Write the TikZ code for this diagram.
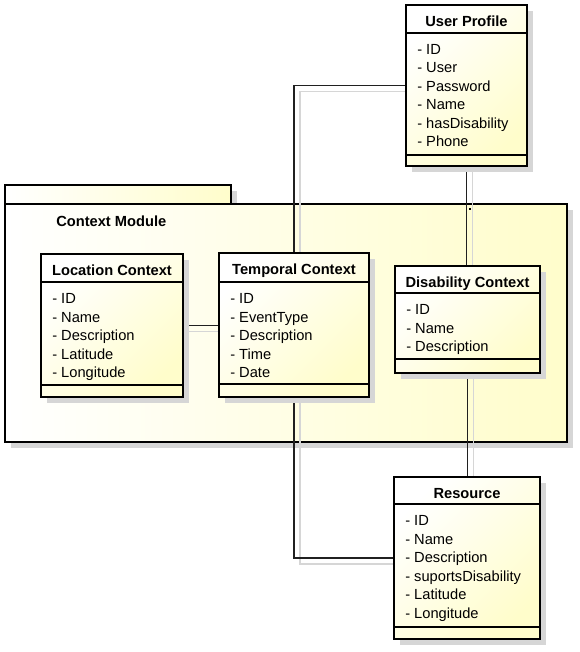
\documentclass[tikz,border=0pt]{standalone}
\usepackage{fontspec}
\setmainfont{Liberation Sans}
\usetikzlibrary{fit,calc}
\definecolor{cream}{HTML}{FFFDCB}
\definecolor{shadowgray}{HTML}{D6D6D6}
\definecolor{ghostgray}{HTML}{D6D6D6}
\definecolor{connc}{HTML}{202020}
\tikzset{
  boxshadow/.style={fill=shadowgray},
  boxfill/.style={top color=white, bottom color=cream, shading angle=45},
  pkgfill/.style={left color=white, right color=cream},
  boxborder/.style={draw=black, line width=2.2pt},
  sepline/.style={draw=black, line width=1.1pt},
  titletext/.style={anchor=base, inner sep=0pt, font=\fontsize{11}{13}\selectfont\bfseries},
  attrtext/.style={anchor=base west, inner sep=0pt, font=\fontsize{11}{13}\selectfont},
  conn/.style={draw=connc, line width=1pt},
  ghost/.style={draw=ghostgray, line width=0.9pt},
}
\newcommand{\umlclass}[9]{%
  \fill[boxshadow] ({#2+6},{#3+6}) rectangle ({#4+6},{#5+6});
  \path[boxfill] (#2,#3) rectangle (#4,#5);
  \draw[sepline] (#2,#6) -- (#4,#6);
  \draw[sepline] (#2,#7) -- (#4,#7);
  \draw[boxborder] (#2,#3) rectangle (#4,#5);
  \node[fit={(#2,#3) (#4,#5)}, inner sep=0pt] (#1) {};
  \node[titletext] (#1-title) at ({(#2+#4)/2},{#3+21.5}) {#8};
  \foreach \t [count=\i] in {#9}
    \node[attrtext] (#1-a\i) at ({#2+11},{#6+21.5+18.5*(\i-1)}) {- \t};
}
\begin{document}
\begin{tikzpicture}[x=0.75pt, y=-0.75pt]
\useasboundingbox (0,0) rectangle (580,652);
% package
\fill[boxshadow] (11,191) rectangle (237,210);
\fill[boxshadow] (11,210) rectangle (573,448);
\path[pkgfill] (5,185) rectangle (231,204);
\path[pkgfill] (5,204) rectangle (567,442);
\draw[boxborder] (5,185) rectangle (231,204);
\draw[boxborder] (5,204) rectangle (567,442);
\node[fit={(5,204) (567,442)}, inner sep=0pt] (ctx) {};
\node[titletext, anchor=base west] (ctx-title) at (56,226) {Context Module};
% hidden anchors for connectors (class outlines)
\node[fit={(406,5) (527,166)}, inner sep=0pt] (user) {};
\node[fit={(41,254) (183,397)}, inner sep=0pt] (loc) {};
\node[fit={(219,253) (369,397)}, inner sep=0pt] (temp) {};
\node[fit={(395,266) (540,373)}, inner sep=0pt] (dis) {};
\node[fit={(394,477) (540,639)}, inner sep=0pt] (res) {};
% ghost lines
\draw[ghost] ([shift={(6,6)}]loc.east) -- ([shift={(6,6)}]loc.east -| temp.west);
\draw[ghost] ([shift={(6,0)}]temp.north) |- ([shift={(6,6)}]user.west);
\draw[ghost] ([shift={(6,6)}]user.south) -- ([shift={(6,0)}]user.south |- dis.north);
\draw[ghost] ([shift={(6,6)}]dis.south) -- ([shift={(6,0)}]dis.south |- res.north);
\draw[ghost] ([shift={(6,6)}]temp.south) |- ([shift={(6,6)}]res.west);
% connectors
\draw[conn] (loc.east) -- (loc.east -| temp.west);
\draw[conn] (temp.north) |- (user.west);
\draw[conn] (user.south) -- (user.south |- dis.north);
\draw[conn] (dis.south) -- (dis.south |- res.north);
\draw[conn] (temp.south) |- (res.west);
\fill[black] (469,208) rectangle (471,210);
% classes
\umlclass{userbox}{406}{5}{527}{166}{33}{155}{User Profile}{ID,User,Password,Name,hasDisability,Phone}
\umlclass{locbox}{41}{254}{183}{397}{282}{385}{Location Context}{ID,Name,Description,Latitude,Longitude}
\umlclass{tempbox}{219}{253}{369}{397}{282}{384}{Temporal Context}{ID,EventType,Description,Time,Date}
\umlclass{disbox}{395}{266}{540}{373}{293}{359}{Disability Context}{ID,Name,Description}
\umlclass{resbox}{394}{477}{540}{639}{504}{627}{Resource}{ID,Name,Description,suportsDisability,Latitude,Longitude}
\end{tikzpicture}
\end{document}
